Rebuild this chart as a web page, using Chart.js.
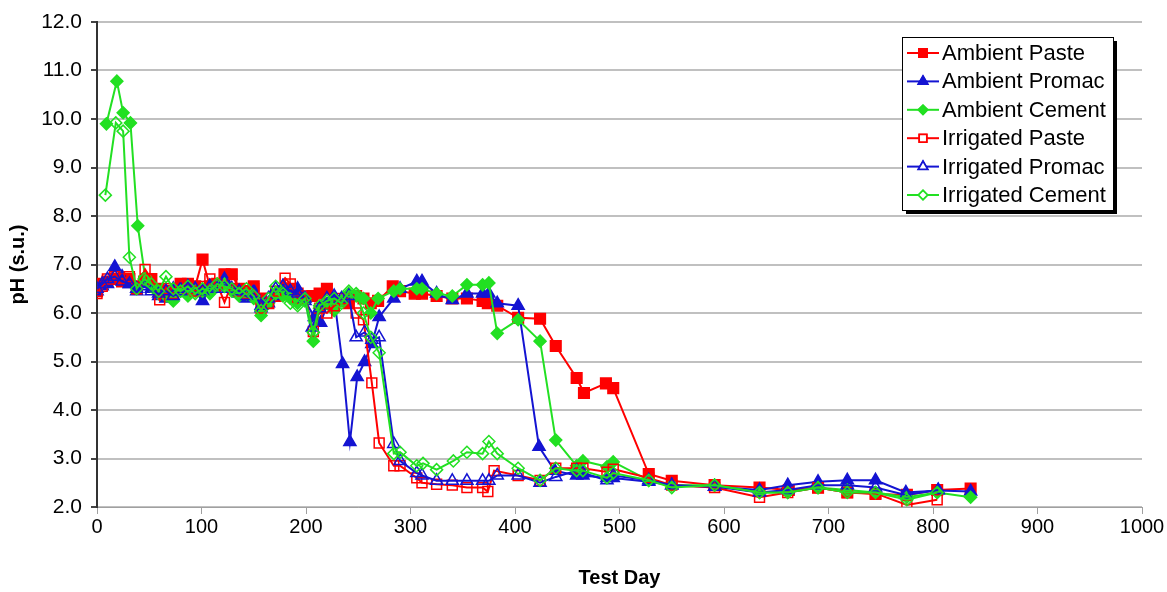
<!DOCTYPE html>
<html>
<head>
<meta charset="utf-8">
<script src="https://cdn.jsdelivr.net/npm/chart.js@4"></script>
<style>
  body { margin: 0; background: #fff; }
  #wrap { width: 1167px; height: 592px; }
</style>
</head>
<body>
<div id="wrap"><canvas id="phChart"></canvas></div>
<script>
// x axis ticks
var dayTicks = [0, 100, 200, 300, 400, 500, 600, 700, 800, 900, 1000];

// Ambient Paste
var ambPasteDays = [0, 5, 10, 17, 24, 31, 38, 45, 52, 59, 66, 73, 80, 87, 94, 101, 108, 115, 122, 129, 136, 143, 150, 157, 164, 171, 178, 185, 192, 199, 206, 213, 220, 227, 234, 241, 248, 255, 262, 269, 283, 290, 304, 311, 325, 340, 354, 369, 374, 383, 403, 424, 439, 459, 466, 487, 494, 528, 550, 591, 634, 662, 690, 718, 745, 775, 804, 836];
var ambPastePh = [6.45, 6.6, 6.65, 6.7, 6.65, 6.7, 6.55, 6.65, 6.7, 6.5, 6.45, 6.4, 6.6, 6.6, 6.55, 7.1, 6.55, 6.6, 6.8, 6.8, 6.5, 6.45, 6.55, 6.3, 6.2, 6.35, 6.45, 6.5, 6.4, 6.3, 6.35, 6.4, 6.5, 6.2, 6.25, 6.2, 6.35, 6.3, 6.2, 6.25, 6.55, 6.45, 6.4, 6.4, 6.35, 6.3, 6.3, 6.25, 6.2, 6.15, 5.9, 5.88, 5.32, 4.66, 4.35, 4.55, 4.45, 2.68, 2.54, 2.45, 2.4, 2.35, 2.4, 2.3, 2.27, 2.25, 2.35, 2.38];

// Ambient Promac
var ambPromacDays = [0, 5, 10, 17, 24, 31, 38, 45, 52, 59, 66, 73, 80, 87, 94, 101, 108, 115, 122, 129, 136, 143, 150, 157, 164, 171, 178, 185, 192, 199, 208, 214, 220, 227, 235, 242, 249, 256, 263, 270, 284, 290, 306, 311, 325, 340, 354, 369, 375, 383, 403, 423, 438, 459, 465, 488, 494, 528, 550, 591, 634, 661, 690, 718, 745, 774, 805, 836];
var ambPromacPh = [6.45, 6.55, 6.6, 6.95, 6.75, 6.6, 6.45, 6.6, 6.5, 6.35, 6.3, 6.5, 6.5, 6.55, 6.45, 6.25, 6.5, 6.55, 6.7, 6.5, 6.4, 6.3, 6.45, 6.1, 6.2, 6.35, 6.55, 6.45, 6.5, 6.25, 5.92, 5.8, 6.15, 6.3, 4.95, 3.34, 4.68, 4.99, 5.36, 5.92, 6.3, 6.5, 6.65, 6.65, 6.4, 6.27, 6.4, 6.4, 6.4, 6.2, 6.15, 3.24, 2.75, 2.65, 2.65, 2.6, 2.6, 2.52, 2.45, 2.42, 2.35, 2.45, 2.52, 2.55, 2.55, 2.3, 2.34, 2.32];

// Ambient Cement
var ambCementDays = [9, 19, 25, 32, 39, 46, 52, 59, 66, 73, 80, 87, 94, 101, 108, 115, 122, 129, 136, 143, 150, 157, 164, 171, 178, 185, 192, 199, 207, 213, 220, 227, 234, 241, 248, 255, 262, 269, 284, 290, 306, 311, 325, 340, 354, 369, 375, 383, 403, 424, 439, 459, 465, 488, 494, 528, 550, 591, 634, 661, 690, 718, 745, 775, 804, 836];
var ambCementPh = [9.9, 10.78, 10.13, 9.92, 7.8, 6.75, 6.55, 6.4, 6.35, 6.25, 6.45, 6.35, 6.45, 6.45, 6.4, 6.55, 6.6, 6.45, 6.35, 6.4, 6.3, 5.95, 6.2, 6.4, 6.35, 6.3, 6.2, 6.25, 5.42, 6.1, 6.2, 6.05, 6.25, 6.4, 6.35, 6.3, 6.0, 6.3, 6.45, 6.5, 6.5, 6.5, 6.4, 6.35, 6.58, 6.58, 6.62, 5.58, 5.86, 5.42, 3.38, 2.85, 2.95, 2.83, 2.93, 2.55, 2.45, 2.45, 2.3, 2.3, 2.4, 2.35, 2.3, 2.2, 2.3, 2.2];

// Irrigated Paste
var irrPasteDays = [0, 5, 10, 17, 24, 31, 38, 46, 52, 60, 66, 73, 80, 87, 94, 101, 108, 115, 122, 129, 136, 143, 150, 157, 164, 171, 180, 185, 192, 199, 207, 213, 220, 227, 234, 241, 248, 255, 263, 270, 284, 290, 306, 311, 325, 340, 354, 369, 374, 380, 403, 424, 439, 459, 465, 488, 494, 528, 550, 591, 634, 661, 690, 718, 745, 775, 804];
var irrPastePh = [6.4, 6.55, 6.7, 6.75, 6.7, 6.75, 6.5, 6.9, 6.7, 6.27, 6.5, 6.4, 6.55, 6.5, 6.45, 6.55, 6.7, 6.6, 6.22, 6.6, 6.45, 6.4, 6.5, 6.1, 6.2, 6.45, 6.72, 6.6, 6.3, 6.35, 5.62, 6.1, 6.0, 6.15, 6.3, 6.3, 6.0, 5.86, 4.56, 3.32, 2.85, 2.85, 2.6, 2.5, 2.47, 2.45, 2.4, 2.4, 2.32, 2.75, 2.65, 2.55, 2.8, 2.8, 2.8, 2.72, 2.78, 2.6, 2.45, 2.4, 2.2, 2.3, 2.4, 2.3, 2.28, 2.04, 2.15];

// Irrigated Promac
var irrPromacDays = [0, 5, 10, 17, 24, 31, 38, 45, 52, 59, 66, 73, 80, 87, 94, 101, 108, 115, 122, 129, 136, 143, 150, 157, 164, 171, 178, 185, 192, 199, 206, 213, 220, 227, 234, 241, 248, 256, 263, 270, 284, 290, 306, 311, 325, 340, 354, 369, 375, 383, 403, 424, 439, 459, 465, 488, 494, 528, 550, 591, 634, 661, 690, 718, 745, 774, 805];
var irrPromacPh = [6.5, 6.6, 6.7, 6.75, 6.65, 6.6, 6.5, 6.55, 6.45, 6.4, 6.45, 6.35, 6.45, 6.5, 6.5, 6.45, 6.55, 6.5, 6.65, 6.5, 6.45, 6.35, 6.4, 6.15, 6.3, 6.5, 6.55, 6.45, 6.4, 6.3, 5.7, 6.1, 6.3, 6.35, 6.3, 6.35, 5.5, 5.6, 5.45, 5.5, 3.3, 2.95, 2.7, 2.65, 2.54, 2.54, 2.54, 2.54, 2.54, 2.65, 2.65, 2.5, 2.62, 2.75, 2.7, 2.55, 2.65, 2.55, 2.45, 2.42, 2.3, 2.35, 2.45, 2.45, 2.4, 2.25, 2.35];

// Irrigated Cement
var irrCementDays = [8, 18, 25, 31, 38, 45, 52, 59, 66, 73, 80, 87, 94, 101, 108, 115, 122, 129, 136, 143, 150, 157, 164, 171, 178, 185, 192, 199, 207, 213, 220, 227, 234, 241, 248, 255, 262, 270, 284, 290, 306, 312, 325, 341, 354, 369, 375, 383, 403, 424, 439, 459, 465, 488, 494, 528, 550, 591, 634, 661, 690, 718, 745, 775, 804];
var irrCementPh = [8.43, 9.92, 9.75, 7.15, 6.5, 6.7, 6.6, 6.45, 6.75, 6.5, 6.45, 6.55, 6.4, 6.5, 6.45, 6.6, 6.55, 6.5, 6.4, 6.5, 6.35, 6.05, 6.3, 6.55, 6.4, 6.2, 6.15, 6.3, 5.6, 6.15, 6.25, 6.3, 6.2, 6.45, 6.4, 6.0, 5.5, 5.18, 3.1, 3.13, 2.85, 2.9, 2.77, 2.95, 3.13, 3.1, 3.35, 3.1, 2.8, 2.55, 2.8, 2.75, 2.75, 2.6, 2.7, 2.55, 2.4, 2.45, 2.3, 2.3, 2.4, 2.3, 2.3, 2.15, 2.3];

var RED = '#ff0000', BLUE = '#1414d2', GREEN = '#22e022';
var FONT = '"Liberation Sans", Arial, sans-serif';

function pts(days, vals) {
    return days.map(function (d, i) { return { x: d, y: vals[i] }; });
}

var series = [
    { label: 'Ambient Paste', days: ambPasteDays, ph: ambPastePh, color: RED, style: 'rect', r: 7.5, filled: true },
    { label: 'Ambient Promac', days: ambPromacDays, ph: ambPromacPh, color: BLUE, style: 'triangle', r: 7, filled: true },
    { label: 'Ambient Cement', days: ambCementDays, ph: ambCementPh, color: GREEN, style: 'rectRot', r: 6, filled: true },
    { label: 'Irrigated Paste', days: irrPasteDays, ph: irrPastePh, color: RED, style: 'rect', r: 7, filled: false },
    { label: 'Irrigated Promac', days: irrPromacDays, ph: irrPromacPh, color: BLUE, style: 'triangle', r: 7, filled: false },
    { label: 'Irrigated Cement', days: irrCementDays, ph: irrCementPh, color: GREEN, style: 'rectRot', r: 6, filled: false }
];

var datasets = series.map(function (s, i) {
    return {
        label: s.label,
        data: pts(s.days, s.ph),
        borderColor: s.color,
        backgroundColor: s.filled ? s.color : '#ffffff',
        pointBorderColor: s.color,
        pointBackgroundColor: s.filled ? s.color : 'rgba(255,255,255,0)',
        pointStyle: s.style,
        pointRadius: s.r,
        pointBorderWidth: 1.5,
        borderWidth: 2,
        tension: 0,
        order: series.length - i
    };
});

// legend box with line + marker, like the spreadsheet one
var boxLegend = {
    id: 'boxLegend',
    afterDraw: function (chart) {
        var ctx = chart.ctx;
        var x0 = 902, y0 = 37, w = 211, h = 173;
        ctx.save();
        ctx.fillStyle = '#000';
        ctx.fillRect(x0 + 4, y0 + 4, w, h);
        ctx.fillStyle = '#fff';
        ctx.fillRect(x0, y0, w, h);
        ctx.strokeStyle = '#000';
        ctx.lineWidth = 1;
        ctx.strokeRect(x0 + 0.5, y0 + 0.5, w, h);
        ctx.font = '22px ' + FONT;
        ctx.textBaseline = 'middle';
        series.forEach(function (s, i) {
            var y = 53 + i * 28.4;
            ctx.strokeStyle = s.color;
            ctx.lineWidth = 2;
            ctx.beginPath();
            ctx.moveTo(907, y);
            ctx.lineTo(939, y);
            ctx.stroke();
            Chart.helpers.drawPoint(ctx, {
                pointStyle: s.style,
                radius: s.r * 0.75,
                borderWidth: 1.5,
                rotation: 0
            }, 923, y);
            ctx.fillStyle = s.filled ? s.color : '#fff';
            ctx.fill();
            ctx.strokeStyle = s.color;
            ctx.lineWidth = 1.5;
            ctx.stroke();
            ctx.fillStyle = '#000';
            ctx.fillText(s.label, 942, y + 1);
        });
        ctx.restore();
    }
};

var ctx = document.getElementById('phChart').getContext('2d');
new Chart(ctx, {
    type: 'line',
    data: { datasets: datasets },
    options: {
        responsive: true,
        maintainAspectRatio: false,
        animation: false,
        layout: { padding: { left: 0, right: 25, top: 22, bottom: 0 } },
        plugins: { legend: { display: false }, tooltip: { enabled: false } },
        scales: {
            x: {
                type: 'linear',
                min: 0,
                max: 1000,
                afterBuildTicks: function (scale) {
                    scale.ticks = dayTicks.map(function (v) { return { value: v }; });
                },
                afterFit: function (scale) { scale.height = 85; },
                grid: { display: true, drawOnChartArea: false, tickLength: 7, color: '#a0a0a0', lineWidth: 1 },
                border: { color: '#a0a0a0', width: 1 },
                ticks: {
                    color: '#000',
                    padding: 1,
                    maxRotation: 0,
                    font: { family: FONT, size: 20 },
                    callback: function (v) { return String(v); }
                },
                title: {
                    display: true,
                    text: 'Test Day',
                    color: '#000',
                    padding: { top: 2, bottom: 2 },
                    font: { family: FONT, size: 20, weight: 'bold' }
                }
            },
            y: {
                min: 2,
                max: 12,
                afterFit: function (scale) { scale.width = 97; },
                grid: { color: '#c0c0c0', lineWidth: 2, tickLength: 6, tickColor: '#444' },
                border: { color: '#333', width: 2 },
                ticks: {
                    stepSize: 1,
                    color: '#000',
                    padding: 9,
                    font: { family: FONT, size: 21 },
                    callback: function (v) { return v.toFixed(1); }
                },
                title: {
                    display: true,
                    text: 'pH (s.u.)',
                    color: '#000',
                    padding: { top: 6, bottom: 0 },
                    font: { family: FONT, size: 20, weight: 'bold' }
                }
            }
        }
    },
    plugins: [boxLegend]
});
</script>
</body>
</html>
